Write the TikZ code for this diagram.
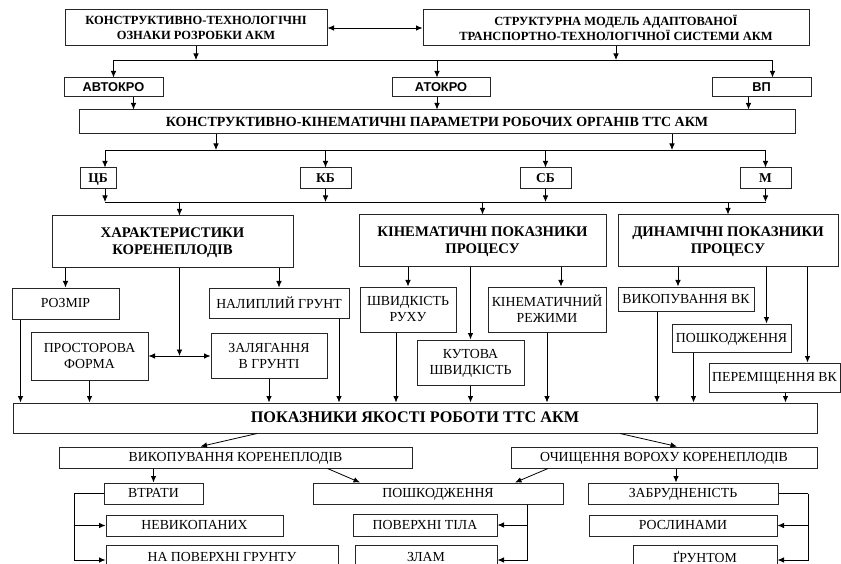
\documentclass[tikz,border=0pt]{standalone}
\usepackage{fontspec}
\setmainfont{Liberation Serif}
\newfontfamily\arialfont{Liberation Sans}
\usetikzlibrary{arrows.meta}

\begin{document}
\begin{tikzpicture}[x=1pt,y=-1pt,
    box/.style={draw=black!85,line width=1pt,align=center,inner sep=1pt,text depth=1pt},
    head/.style={box,font=\fontsize{14.7}{17}\selectfont\bfseries},
    item/.style={box,font=\fontsize{13.8}{16}\selectfont},
    code/.style={box,font=\fontsize{12.8}{14}\selectfont\arialfont\bfseries},
    arr/.style={-{Latex[length=6.5pt,width=5.5pt]},line width=0.8pt},
    darr/.style={{Latex[length=6.5pt,width=5.5pt]}-{Latex[length=6.5pt,width=5.5pt]},line width=0.8pt}
]
    \clip (0,0) rectangle (841,564);

    % top level
    \node[head,font=\fontsize{12.5}{15}\selectfont\bfseries,minimum width=262,minimum height=36] (ozn) at (196,28) {КОНСТРУКТИВНО-ТЕХНОЛОГІЧНІ\\ОЗНАКИ РОЗРОБКИ АКМ};
    \node[head,font=\fontsize{12.5}{15}\selectfont\bfseries,minimum width=386,minimum height=36] (model) at (616,28) {СТРУКТУРНА МОДЕЛЬ АДАПТОВАНОЇ\\ТРАНСПОРТНО-ТЕХНОЛОГІЧНОЇ СИСТЕМИ АКМ};

    \node[code,minimum width=99,minimum height=19] (avt) at (113.5,87.5) {АВТОКРО};
    \node[code,minimum width=98,minimum height=19] (atk) at (441,87.5) {АТОКРО};
    \node[code,minimum width=99,minimum height=19] (vp) at (761.5,87.5) {ВП};

    \node[head,font=\fontsize{14}{15}\selectfont\bfseries,minimum width=716,minimum height=24] (kin) at (437,122) {КОНСТРУКТИВНО-КІНЕМАТИЧНІ ПАРАМЕТРИ РОБОЧИХ ОРГАНІВ ТТС АКМ};

    \node[head,font=\fontsize{13.5}{15}\selectfont\bfseries,minimum width=36,minimum height=21] (cb) at (98,178.5) {ЦБ};
    \node[head,font=\fontsize{13.5}{15}\selectfont\bfseries,minimum width=51,minimum height=21] (kb) at (325.5,178.5) {КБ};
    \node[head,font=\fontsize{13.5}{15}\selectfont\bfseries,minimum width=51,minimum height=21] (sb) at (545.5,178.5) {СБ};
    \node[head,font=\fontsize{13.5}{15}\selectfont\bfseries,minimum width=51,minimum height=21] (m) at (765.5,178.5) {М};

    \node[head,minimum width=241,minimum height=52] (har) at (172.5,242) {ХАРАКТЕРИСТИКИ\\КОРЕНЕПЛОДІВ};
    \node[head,minimum width=247,minimum height=52] (kpp) at (482.5,241) {КІНЕМАТИЧНІ ПОКАЗНИКИ\\ПРОЦЕСУ};
    \node[head,minimum width=220,minimum height=52] (dpp) at (728,241) {ДИНАМІЧНІ ПОКАЗНИКИ\\ПРОЦЕСУ};

    % properties of root crops
    \node[item,minimum width=107,minimum height=31] (rozm) at (65.5,303.5) {РОЗМІР};
    \node[item,minimum width=140,minimum height=30] (nal) at (279,303) {НАЛИПЛИЙ ГРУНТ};
    \node[item,minimum width=117,minimum height=48] (prost) at (89.5,356) {ПРОСТОРОВА\\ФОРМА};
    \node[item,minimum width=116,minimum height=45] (zal) at (269,356) {ЗАЛЯГАННЯ\\В ГРУНТІ};

    % kinematic
    \node[item,minimum width=96,minimum height=45] (shv) at (408,309.5) {ШВИДКІСТЬ\\РУХУ};
    \node[item,minimum width=107,minimum height=45] (kut) at (470.5,362.5) {КУТОВА\\ШВИДКІСТЬ};
    \node[item,minimum width=118,minimum height=45] (krj) at (547,309.5) {КІНЕМАТИЧНИЙ\\РЕЖИМИ};

    % dynamic
    \node[item,minimum width=136,minimum height=24] (vyk) at (686,299) {ВИКОПУВАННЯ ВК};
    \node[item,minimum width=119,minimum height=28] (posh) at (731.5,338) {ПОШКОДЖЕННЯ};
    \node[item,minimum width=131,minimum height=29] (perem) at (774.5,377.5) {ПЕРЕМІЩЕННЯ ВК};

    \node[head,font=\fontsize{16.2}{18}\selectfont\bfseries,minimum width=804,minimum height=30] (pok) at (415,418) {ПОКАЗНИКИ ЯКОСТІ РОБОТИ ТТС АКМ};

    % quality indices
    \node[item,minimum width=353,minimum height=21] (vk) at (235.5,457.5) {ВИКОПУВАННЯ КОРЕНЕПЛОДІВ};
    \node[item,minimum width=306,minimum height=21] (och) at (664,457.5) {ОЧИЩЕННЯ ВОРОХУ КОРЕНЕПЛОДІВ};
    \node[item,minimum width=99,minimum height=21] (vtr) at (153.5,493.5) {ВТРАТИ};
    \node[item,minimum width=177,minimum height=21] (nev) at (194.5,525.5) {НЕВИКОПАНИХ};
    \node[item,minimum width=232,minimum height=24] (nap) at (222,557) {НА ПОВЕРХНІ ГРУНТУ};
    \node[item,minimum width=250,minimum height=21] (psh) at (438,493.5) {ПОШКОДЖЕННЯ};
    \node[item,minimum width=144,minimum height=22] (pov) at (425,525) {ПОВЕРХНІ ТІЛА};
    \node[item,minimum width=142,minimum height=24] (zlam) at (426,557) {ЗЛАМ};
    \node[item,minimum width=190,minimum height=21] (zab) at (683,493.5) {ЗАБРУДНЕНІСТЬ};
    \node[item,minimum width=188,minimum height=21] (rosl) at (683,525.5) {РОСЛИНАМИ};
    \node[item,minimum width=144,minimum height=24] (grun) at (705,557) {ҐРУНТОМ};

    \coordinate (b1) at (437,60);
    \coordinate (b2) at (437,150);
    \coordinate (b3) at (437,202);
    \coordinate (vl) at (74,493.5);
    \coordinate (zr) at (808,493.5);

    % connectors
    \draw[darr] (ozn) -- (model);
    \draw[arr] (ozn.south) -- (ozn.south |- b1);
    \draw[arr] (model.south) -- (model.south |- b1);
    \draw (avt.north |- b1) -- ([xshift=11]vp.north |- b1);
    \draw[arr] (avt.north |- b1) -- (avt.north);
    \draw[arr] ([xshift=-4]atk.north |- b1) -- ([xshift=-4]atk.north);
    \draw[arr] ([xshift=11]vp.north |- b1) -- ([xshift=11]vp.north);

    \draw[arr] ([xshift=20]avt.south) -- ([xshift=20]avt.south |- kin.north);
    \draw[arr] ([xshift=-4]atk.south) -- ([xshift=-4]atk.south |- kin.north);
    \draw[arr] ([xshift=-13]vp.south) -- ([xshift=-13]vp.south |- kin.north);

    \draw[arr] ([xshift=-221]kin.south) -- ([xshift=-221]kin.south |- b2);
    \draw[arr] ([xshift=235]kin.south) -- ([xshift=235]kin.south |- b2);
    \draw ([xshift=7]cb.north |- b2) -- (m.north |- b2);
    \draw[arr] ([xshift=7]cb.north |- b2) -- ([xshift=7]cb.north);
    \draw[arr] (kb.north |- b2) -- (kb.north);
    \draw[arr] (sb.north |- b2) -- (sb.north);
    \draw[arr] (m.north |- b2) -- (m.north);

    \draw ([xshift=7]cb.south |- b3) -- (m.south |- b3);
    \draw[arr] ([xshift=7]cb.south) -- ([xshift=7]cb.south |- b3);
    \draw[arr] (kb.south) -- (kb.south |- b3);
    \draw[arr] (sb.south) -- (sb.south |- b3);
    \draw[arr] (m.south) -- (m.south |- b3);
    \draw[arr] ([xshift=7]har.north |- b3) -- ([xshift=7]har.north);
    \draw[arr] (kpp.north |- b3) -- (kpp.north);
    \draw[arr] (dpp.north |- b3) -- (dpp.north);

    \draw[arr] (rozm.north |- har.south) -- (rozm.north);
    \draw[arr] (nal.north |- har.south) -- (nal.north);
    \draw[arr] ([xshift=7]har.south) -- ([xshift=7]har.south |- prost.east);
    \draw[darr] (prost.east) -- (zal.west |- prost.east);

    \draw[arr] (shv.north |- kpp.south) -- (shv.north);
    \draw[arr] (kut.north |- kpp.south) -- (kut.north);
    \draw[arr] ([xshift=14]krj.north |- kpp.south) -- ([xshift=14]krj.north);

    \draw[arr] ([xshift=-8]vyk.north |- dpp.south) -- ([xshift=-8]vyk.north);
    \draw[arr] ([xshift=35]posh.north |- dpp.south) -- ([xshift=35]posh.north);
    \draw[arr] ([xshift=33]perem.north |- dpp.south) -- ([xshift=33]perem.north);

    \draw[arr] ([xshift=-45]rozm.south) -- ([xshift=-45]rozm.south |- pok.north);
    \draw[arr] (prost.south) -- (prost.south |- pok.north);
    \draw[arr] (zal.south) -- (zal.south |- pok.north);
    \draw[arr] ([xshift=60]nal.south) -- ([xshift=60]nal.south |- pok.north);
    \draw[arr] ([xshift=-12]shv.south) -- ([xshift=-12]shv.south |- pok.north);
    \draw[arr] (kut.south) -- (kut.south |- pok.north);
    \draw[arr] (krj.south) -- (krj.south |- pok.north);
    \draw[arr] ([xshift=-29]vyk.south) -- ([xshift=-29]vyk.south |- pok.north);
    \draw[arr] ([xshift=-38]posh.south) -- ([xshift=-38]posh.south |- pok.north);
    \draw[arr] ([xshift=11]perem.south) -- ([xshift=11]perem.south |- pok.north);

    \draw[arr] ([xshift=-158]pok.south) -- ([xshift=-35]vk.north);
    \draw[arr] ([xshift=205]pok.south) -- ([xshift=13]och.north);
    \draw[arr] (vtr.north |- vk.south) -- (vtr.north);
    \draw[arr] ([xshift=92]vk.south) -- ([xshift=-78]psh.north);
    \draw[arr] ([xshift=-116]och.south) -- ([xshift=77]psh.north);
    \draw[arr] ([xshift=-7]zab.north |- och.south) -- ([xshift=-7]zab.north);

    \draw (vtr.west) -- (vl);
    \draw[arr] (vl) |- (nev.west);
    \draw[arr] (vl) |- ([yshift=-3]nap.west);
    \draw[arr] ([xshift=89]psh.south) |- (pov.east);
    \draw[arr] ([xshift=89]psh.south) |- ([yshift=-3]zlam.east);
    \draw (zab.east) -- (zr);
    \draw[arr] (zr) |- (rosl.east);
    \draw[arr] (zr) |- ([yshift=-3]grun.east);
\end{tikzpicture}
\end{document}
